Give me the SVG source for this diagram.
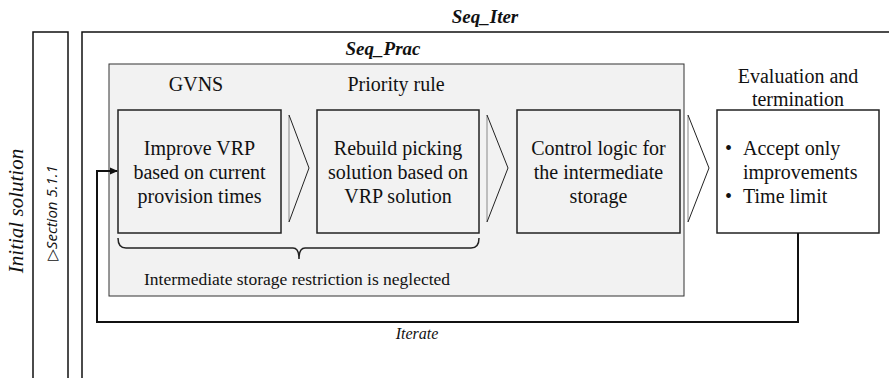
<svg xmlns="http://www.w3.org/2000/svg" width="889" height="378" viewBox="0 0 889 378">
<style>
text{font-family:"Liberation Serif","Times New Roman",serif;fill:#111}
.lbl{font-size:20px}
.c{text-anchor:middle}
.bi{font-weight:bold;font-style:italic;font-size:19px}
.box{fill:#f2f2f2;stroke:#222;stroke-width:1.5}
.wbox{fill:#fff;stroke:#222;stroke-width:1.5}
.chev{fill:none;stroke:#222;stroke-width:1}
.chevl{stroke:#999;stroke-width:1.2}
.conn{fill:none;stroke:#111;stroke-width:2}
</style>
<defs>
<marker id="ah" markerWidth="8" markerHeight="8" refX="7" refY="4" orient="auto" markerUnits="userSpaceOnUse">
<path d="M0,0.5 L8,4 L0,7.5 z" fill="#111"/>
</marker>
</defs>
<rect width="889" height="378" fill="#fff"/>
<g id="initial">
<rect x="33" y="32" width="35" height="360" fill="#fff" stroke="#111" stroke-width="1.5"/>
<text transform="translate(23,211) rotate(-90)" class="c" style="font-size:21px;font-style:italic">Initial solution</text>
<text transform="translate(57,213) rotate(-90)" class="c" style="font-family:'Open Sans','DejaVu Sans',sans-serif;font-size:15px;font-style:italic">▷Section 5.1.1</text>
</g>
<g id="seq_iter">
<path d="M82,392 L82,32 L900,32" fill="none" stroke="#111" stroke-width="1.5"/>
<text x="485" y="23" class="c bi">Seq_Iter</text>
</g>
<g id="seq_prac">
<rect x="109" y="64" width="575" height="232" fill="#f2f2f2" stroke="#333" stroke-width="1"/>
<text x="383" y="55" class="c bi">Seq_Prac</text>
<text x="144" y="285" style="font-size:17.5px">Intermediate storage restriction is neglected</text>
<path d="M118,238 Q118,248 126,248 L293,248 Q299,248 299,259 Q299,248 305,248 L471,248 Q479,248 479,238" fill="none" stroke="#222" stroke-width="1.5"/>
</g>
<g id="gvns">
<text x="196" y="91" class="lbl c">GVNS</text>
<rect x="118" y="110" width="163" height="123" class="box"/>
<text x="199.5" y="155" class="lbl c">Improve VRP</text>
<text x="199.5" y="179" class="lbl c">based on current</text>
<text x="199.5" y="203" class="lbl c">provision times</text>
</g>
<g id="priority">
<text x="396" y="91" class="lbl c">Priority rule</text>
<rect x="317" y="110" width="162" height="123" class="box"/>
<text x="398" y="155" class="lbl c">Rebuild picking</text>
<text x="398" y="179" class="lbl c">solution based on</text>
<text x="398" y="203" class="lbl c">VRP solution</text>
</g>
<g id="control">
<rect x="517" y="110" width="163" height="123" class="box"/>
<text x="598.5" y="155" class="lbl c">Control logic for</text>
<text x="598.5" y="179" class="lbl c">the intermediate</text>
<text x="598.5" y="203" class="lbl c">storage</text>
</g>
<g id="evaluation">
<text x="798" y="83" class="lbl c">Evaluation and</text>
<text x="798" y="106" class="lbl c">termination</text>
<rect x="717" y="110" width="162" height="123" class="wbox"/>
<text x="725" y="155" class="lbl">•</text>
<text x="743" y="155" class="lbl">Accept only</text>
<text x="743" y="179" class="lbl">improvements</text>
<text x="725" y="203" class="lbl">•</text>
<text x="743" y="203" class="lbl">Time limit</text>
</g>
<g id="connectors">
<line x1="289" y1="115" x2="289" y2="222" class="chevl"/>
<polyline points="289,115 309,168 289,222" class="chev"/>
<line x1="487" y1="115" x2="487" y2="222" class="chevl"/>
<polyline points="487,115 508,168 487,222" class="chev"/>
<line x1="688" y1="115" x2="688" y2="222" class="chevl"/>
<polyline points="688,115 709,168 688,222" class="chev"/>
<path d="M798,233 L798,322 L97,322 L97,171 L117,171" class="conn" marker-end="url(#ah)"/>
<text x="417" y="339" class="c" style="font-size:16px;font-style:italic">Iterate</text>
</g>
</svg>
